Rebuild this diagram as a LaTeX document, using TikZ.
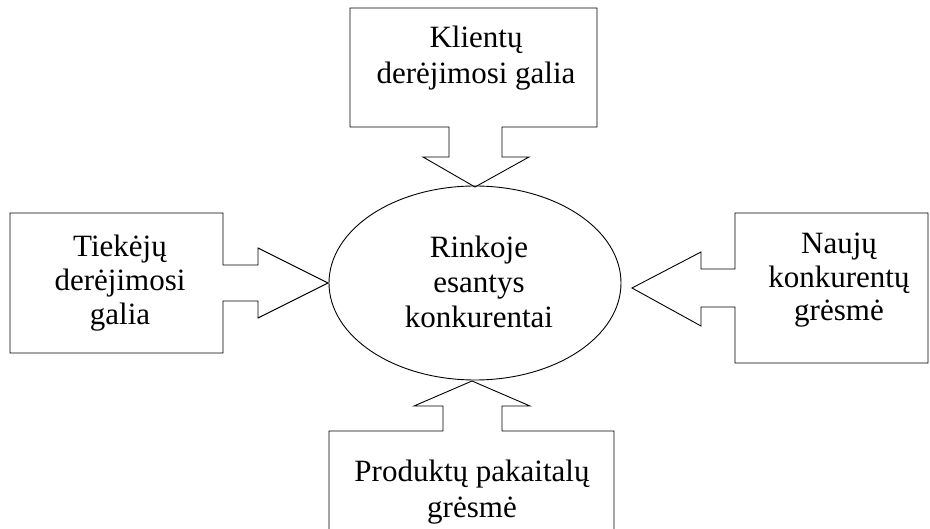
\documentclass[tikz,border=0pt]{standalone}
\usepackage{fontspec}
\setmainfont{Liberation Serif}
\usetikzlibrary{shapes.geometric}
\begin{document}
\begin{tikzpicture}[x=1pt,y=-1pt,
  shapeline/.style={draw=black,line width=0.9pt,line join=miter},
  lbl/.style={anchor=base,font=\fontsize{31}{35}\selectfont,inner sep=0pt}]
\useasboundingbox (0,0) rectangle (930,529);
% central ellipse
\node[shapeline,ellipse,minimum width=292pt,minimum height=194pt,inner sep=0pt] (core) at (475,283) {};
\node[lbl] (c1) at (479,258) {Rinkoje};
\node[lbl] (c2) at (479,293) {esantys};
\node[lbl] (c3) at (479,328) {konkurentai};
% top: buyers
\draw[shapeline] (350,8) -- (597,8) -- (597,127) -- (502,127) -- (502,157) -- (529,157)
  -- (475,187) coordinate (ttip) -- (423,157) -- (449,157) -- (449,127) -- (350,127) -- cycle;
\node[lbl] (t1) at (476,48) {Klientų};
\node[lbl] (t2) at (476,84) {derėjimosi galia};
% left: suppliers
\draw[shapeline] (10,213) -- (223,213) -- (223,265) -- (258,265) -- (258,248)
  -- (328,283) coordinate (ltip) -- (258,318) -- (258,301) -- (223,301) -- (223,353) -- (10,353) -- cycle;
\node[lbl] (l1) at (120,257) {Tiekėjų};
\node[lbl] (l2) at (120,291) {derėjimosi};
\node[lbl] (l3) at (120,325) {galia};
% right: new entrants
\draw[shapeline] (928,213) -- (735,213) -- (735,269) -- (701,269) -- (701,252)
  -- (632,288) coordinate (rtip) -- (701,326) -- (701,307) -- (735,307) -- (735,363) -- (928,363) -- cycle;
\node[lbl] (r1) at (839,254) {Naujų};
\node[lbl] (r2) at (839,288) {konkurentų};
\node[lbl] (r3) at (839,321) {grėsmė};
% bottom: substitutes
\draw[shapeline] (329,529) -- (329,431) -- (443,431) -- (443,406) -- (414,406)
  -- (472,381) coordinate (btip) -- (530,406) -- (502,406) -- (502,431) -- (614,431) -- (614,529);
\node[lbl] (b1) at (472,482) {Produktų pakaitalų};
\node[lbl] (b2) at (472,517) {grėsmė};
\end{tikzpicture}
\end{document}
